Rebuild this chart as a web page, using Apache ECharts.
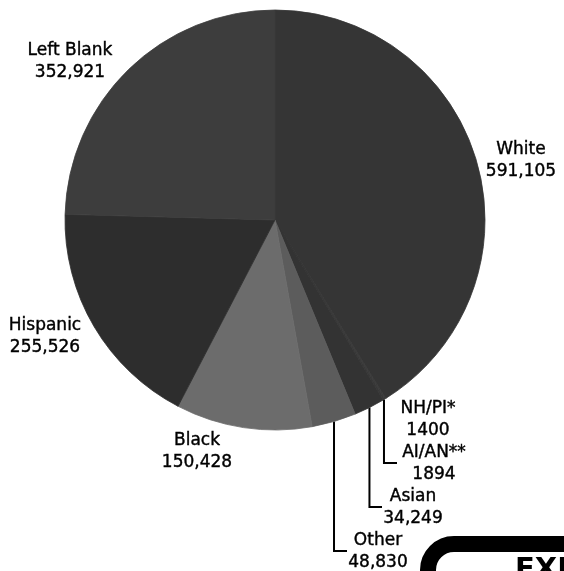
<!DOCTYPE html>
<html>
<head>
<meta charset="utf-8">
<script src="https://cdn.jsdelivr.net/npm/echarts@6/dist/echarts.min.js"></script>
<style>
html,body{margin:0;padding:0;background:#fff;}
#c{width:564px;height:571px;}
</style>
</head>
<body>
<div id="c"></div>
<script>
// ---- data (clockwise from 12 o'clock) ----
const categories = ['White', 'NH/PI*', 'AI/AN**', 'Asian', 'Other', 'Black', 'Hispanic', 'Left Blank'];
const values = [591105, 1400, 1894, 34249, 48830, 150428, 255526, 352921];

// ---- styling / layout (kept apart from data) ----
const sliceColors = ['#353535', '#383838', '#383838', '#333333', '#5c5c5c', '#6c6c6c', '#2d2d2d', '#3d3d3d'];
// label block centres
const labelAnchors = [[521, 161], [428, 420], [434, 464], [413, 508], [378, 552], [197, 452], [45, 337], [70, 62]];
// leader line: [cornerY, endX] (null = no leader)
const leaders = [null, null, [463, 397], [507, 382], [551, 347], null, null, null];

function fmt(v) {
  return v >= 10000 ? v.toLocaleString('en-US') : String(v);
}

const chart = echarts.init(document.getElementById('c'), null, {renderer: 'canvas'});
chart.setOption({
  animation: false,
  backgroundColor: '#fff',
  series: [{
    type: 'pie',
    center: [275, 220],
    radius: 210,
    startAngle: 90,
    clockwise: true,
    avoidLabelOverlap: false,
    label: {
      show: true,
      position: 'outside',
      fontFamily: 'DejaVu Sans',
      fontSize: 17,
      lineHeight: 22,
      color: '#000',
      textBorderColor: '#000',
      textBorderWidth: 0.4,
      formatter: p => p.name + '\n' + fmt(p.value)
    },
    labelLine: {show: true, lineStyle: {color: '#000', width: 2}},
    labelLayout: function (params) {
      const i = params.dataIndex;
      const a = labelAnchors[i];
      const res = {x: a[0], y: a[1], align: 'center', verticalAlign: 'middle'};
      const L = leaders[i];
      if (L && params.labelLinePoints) {
        const p0 = params.labelLinePoints[0];
        res.labelLinePoints = [[p0[0], p0[1]], [p0[0], L[0]], [L[1], L[0]]];
      }
      return res;
    },
    data: categories.map((n, i) => ({
      name: n,
      value: values[i],
      itemStyle: {color: sliceColors[i], borderColor: sliceColors[i], borderWidth: 0.8},
      labelLine: {show: !!leaders[i]}
    }))
  }],
  graphic: [
    {
      type: 'rect',
      shape: {x: 428, y: 544, width: 220, height: 120, r: 26},
      style: {fill: 'none', stroke: '#000', lineWidth: 16}
    },
    {
      type: 'text',
      x: 515, y: 556,
      style: {text: 'EXHIBIT', fontFamily: 'DejaVu Sans', fontWeight: 'bold', fontSize: 29, fill: '#000', textVerticalAlign: 'top'}
    }
  ]
});
</script>
</body>
</html>
